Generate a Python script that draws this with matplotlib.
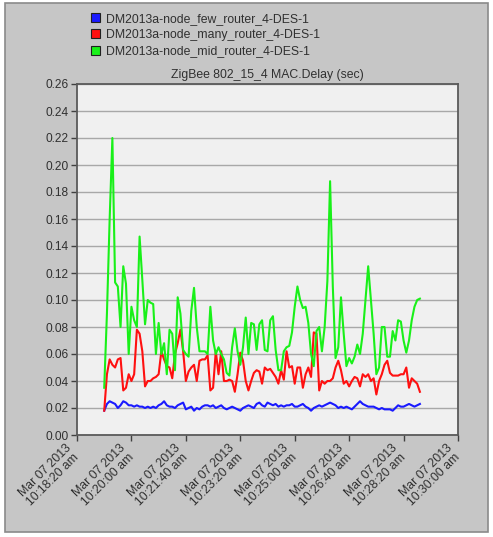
import numpy as np
import matplotlib
matplotlib.use("Agg")
import matplotlib.pyplot as plt
from matplotlib.patches import Rectangle
from matplotlib.transforms import ScaledTranslation, blended_transform_factory

plt.rcParams['font.family'] = ['Liberation Sans', 'DejaVu Sans']

# time in seconds after 10:18:20, sample every 5 s
t_start, t_step = 50, 5

few_router = [
    0.018, 0.023, 0.025, 0.024, 0.023, 0.020, 0.022, 0.025, 0.024, 0.022,
    0.022, 0.021, 0.022, 0.021, 0.021, 0.020, 0.021, 0.020, 0.021, 0.020,
    0.022, 0.023, 0.025, 0.022, 0.021, 0.021, 0.020, 0.022, 0.023, 0.024,
    0.019, 0.020, 0.021, 0.018, 0.020, 0.019, 0.021, 0.022, 0.022, 0.021,
    0.022, 0.020, 0.021, 0.022, 0.020, 0.019, 0.020, 0.021, 0.020, 0.019,
    0.018, 0.020, 0.021, 0.022, 0.021, 0.020, 0.023, 0.024, 0.022, 0.021,
    0.024, 0.023, 0.022, 0.023, 0.021, 0.022, 0.021, 0.022, 0.022, 0.023,
    0.021, 0.021, 0.022, 0.023, 0.021, 0.020, 0.018, 0.020, 0.021, 0.022,
    0.021, 0.022, 0.023, 0.024, 0.023, 0.022, 0.020, 0.021, 0.020, 0.021,
    0.020, 0.019, 0.021, 0.023, 0.025, 0.023, 0.022, 0.021, 0.021, 0.021,
    0.020, 0.019, 0.020, 0.019, 0.019, 0.019, 0.018, 0.020, 0.022, 0.021,
    0.021, 0.022, 0.023, 0.022, 0.021, 0.022, 0.023,
]

many_router = [
    0.018, 0.045, 0.056, 0.052, 0.050, 0.056, 0.057, 0.033, 0.035, 0.045,
    0.040, 0.045, 0.078, 0.075, 0.062, 0.036, 0.040, 0.040, 0.042, 0.043,
    0.045, 0.062, 0.056, 0.051, 0.050, 0.042, 0.060, 0.068, 0.078, 0.062,
    0.040, 0.047, 0.050, 0.052, 0.040, 0.055, 0.056, 0.056, 0.059, 0.033,
    0.035, 0.062, 0.045, 0.062, 0.040, 0.040, 0.041, 0.040, 0.032, 0.045,
    0.061, 0.055, 0.040, 0.033, 0.040, 0.046, 0.048, 0.047, 0.038, 0.050,
    0.048, 0.049, 0.046, 0.043, 0.038, 0.048, 0.041, 0.062, 0.050, 0.051,
    0.038, 0.050, 0.050, 0.035, 0.045, 0.050, 0.043, 0.076, 0.075, 0.033,
    0.040, 0.038, 0.040, 0.040, 0.042, 0.050, 0.055, 0.048, 0.038, 0.040,
    0.036, 0.040, 0.043, 0.042, 0.036, 0.045, 0.043, 0.045, 0.040, 0.042,
    0.030, 0.040, 0.045, 0.052, 0.055, 0.046, 0.044, 0.044, 0.044, 0.045,
    0.045, 0.050, 0.035, 0.042, 0.040, 0.038, 0.032,
]

mid_router = [
    0.035, 0.090, 0.160, 0.220, 0.113, 0.110, 0.080, 0.125, 0.112, 0.060,
    0.095, 0.085, 0.080, 0.147, 0.115, 0.082, 0.100, 0.098, 0.097, 0.060,
    0.083, 0.060, 0.068, 0.045, 0.078, 0.075, 0.048, 0.102, 0.090, 0.063,
    0.060, 0.058, 0.092, 0.109, 0.080, 0.062, 0.062, 0.062, 0.060, 0.095,
    0.070, 0.060, 0.065, 0.060, 0.056, 0.046, 0.044, 0.065, 0.079, 0.062,
    0.052, 0.065, 0.087, 0.060, 0.083, 0.082, 0.063, 0.082, 0.085, 0.063,
    0.062, 0.085, 0.088, 0.063, 0.048, 0.048, 0.062, 0.065, 0.066, 0.076,
    0.095, 0.110, 0.100, 0.094, 0.095, 0.083, 0.060, 0.051, 0.077, 0.080,
    0.062, 0.080, 0.114, 0.188, 0.110, 0.057, 0.065, 0.102, 0.075, 0.051,
    0.057, 0.053, 0.058, 0.067, 0.060, 0.075, 0.100, 0.125, 0.100, 0.075,
    0.045, 0.050, 0.080, 0.080, 0.058, 0.058, 0.077, 0.070, 0.085, 0.084,
    0.070, 0.061, 0.070, 0.085, 0.095, 0.100, 0.101,
]

series_names = [
    "DM2013a-node_few_router_4-DES-1",
    "DM2013a-node_many_router_4-DES-1",
    "DM2013a-node_mid_router_4-DES-1",
]
series_colors = ["#1a1aff", "#ff1010", "#19f019"]

x_tick_secs = [0, 100, 200, 300, 400, 500, 600, 700]
x_tick_labels = [
    "Mar 07 2013\n10:18:20 am", "Mar 07 2013\n10:20:00 am",
    "Mar 07 2013\n10:21:40 am", "Mar 07 2013\n10:23:20 am",
    "Mar 07 2013\n10:25:00 am", "Mar 07 2013\n10:26:40 am",
    "Mar 07 2013\n10:28:20 am", "Mar 07 2013\n10:30:00 am",
]
y_ticks = [0.00, 0.02, 0.04, 0.06, 0.08, 0.10, 0.12, 0.14, 0.16, 0.18,
           0.20, 0.22, 0.24, 0.26]
title = "ZigBee 802_15_4 MAC.Delay (sec)"

W, H = 493, 537
fig = plt.figure(figsize=(W / 100, H / 100), dpi=100)
fig.patch.set_facecolor("white")

# gray panel
fig.add_artist(Rectangle((5 / W, 1 - 532 / H), (488 - 5) / W, (532 - 3) / H,
                         transform=fig.transFigure, facecolor="#c6c6c6",
                         edgecolor="#8a8a8a", linewidth=1.2, zorder=-10))

left, right, top, bottom = 77, 458, 84, 435
ax = fig.add_axes([left / W, 1 - bottom / H, (right - left) / W, (bottom - top) / H])
ax.set_facecolor("#f0f0f0")

n = len(mid_router)
t = t_start + t_step * np.arange(n)
data = [few_router, many_router, mid_router]
for vals, c, name in zip(data, series_colors, series_names):
    ax.plot(t, vals, color=c, lw=1.5, label=name, solid_joinstyle="round")

ax.set_xlim(0, 700)
ax.set_ylim(0, 0.26)
ax.set_yticks(y_ticks)
ax.set_yticklabels([f"{v:.2f}" for v in y_ticks], fontsize=8.6, color="#303030")
ax.set_xticks(x_tick_secs)
ax.set_xticklabels([])

# rotated x tick labels placed manually, offset left/down from each tick
base = blended_transform_factory(ax.transData, ax.transAxes)
offset = ScaledTranslation(-12 / 100, -7.5 / 100, fig.dpi_scale_trans)
for xs, lab in zip(x_tick_secs, x_tick_labels):
    ax.text(xs, 0, lab, transform=base + offset, rotation=45, ha="right",
            va="top", rotation_mode="anchor", fontsize=8.8, color="#303030",
            multialignment="center", linespacing=1.0, clip_on=False)

ax.yaxis.grid(True, color="#a8a8a8", lw=1.0)
ax.set_axisbelow(True)
for s in ax.spines.values():
    s.set_color("#5a5a5a")
    s.set_linewidth(1.3)
ax.tick_params(axis="both", direction="out", color="#404040", length=4, width=1)
ax.tick_params(axis="y", pad=2)

ax.set_title(title, fontsize=8.8, color="#303030", pad=4)

# legend
leg = fig.legend(handles=[Rectangle((0, 0), 1, 1, facecolor=c, edgecolor="#202020", lw=0.8)
                          for c in series_colors],
                 labels=series_names, loc="upper left",
                 bbox_to_anchor=(86 / W, 1 - 8 / H), frameon=False,
                 fontsize=8.8, handlelength=0.75, handleheight=0.75,
                 handletextpad=0.45, labelspacing=0.35, borderaxespad=0)
for txt in leg.get_texts():
    txt.set_color("#303030")

fig.savefig("out.png", dpi=100, facecolor=fig.get_facecolor())
